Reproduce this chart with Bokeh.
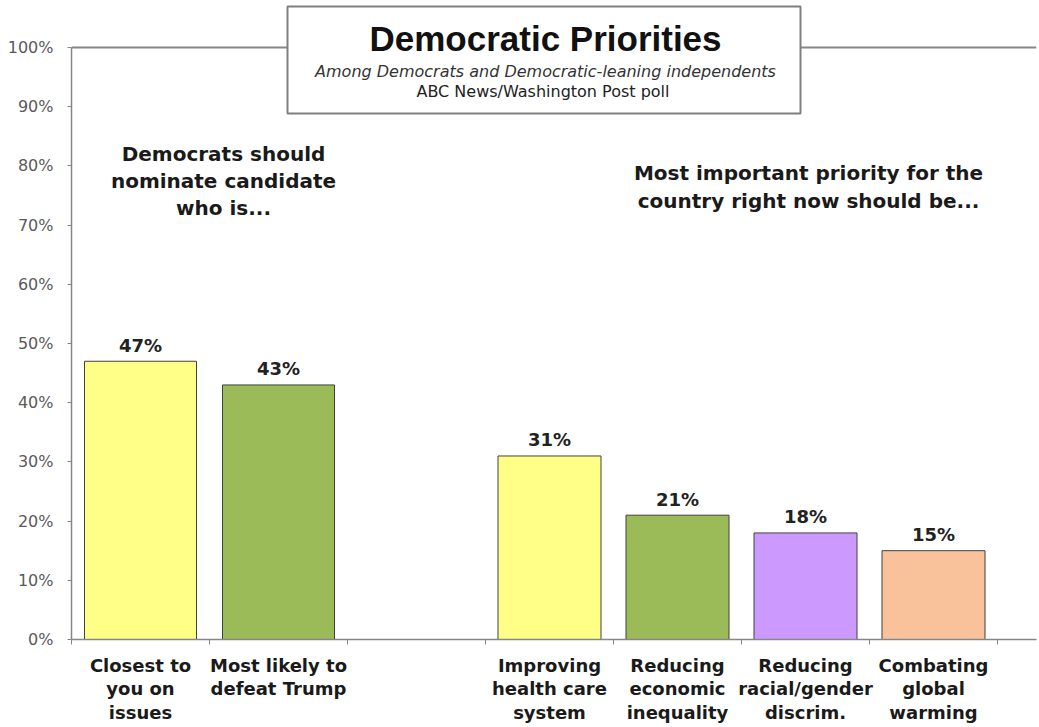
from bokeh.plotting import figure
from bokeh.models import (ColumnDataSource, Range1d, FixedTicker, PrintfTickFormatter,
                          Span, BoxAnnotation, Label, LinearAxis)
from bokeh.core.properties import value
from bokeh.embed import file_html
from bokeh.resources import INLINE

# ---------------- data ----------------
candidate_labels = ["Closest to\nyou on\nissues", "Most likely to\ndefeat Trump"]
candidate_values = [47, 43]
priority_labels = ["Improving\nhealth care\nsystem", "Reducing\neconomic\ninequality",
                   "Reducing\nracial/gender\ndiscrim.", "Combating\nglobal\nwarming"]
priority_values = [31, 21, 18, 15]
y_ticks = [0, 10, 20, 30, 40, 50, 60, 70, 80, 90, 100]

title_text = "Democratic Priorities"
subtitle_text = "Among Democrats and Democratic-leaning independents"
source_text = "ABC News/Washington  Post poll"
left_note = ["Democrats should", "nominate candidate", "who is..."]
right_note = ["Most important priority for the", "country right now should be..."]

# ---------------- styles / layout ----------------
candidate_colors = ["#FFFF88", "#9BBB59"]
priority_colors = ["#FFFF88", "#9BBB59", "#CC99FF", "#FAC29A"]
SLOT_A, SLOT_B = 138, 128
BAR_A, BAR_B = 112, 103
FONT = "DejaVu Sans"
TITLE_FONT = "Liberation Sans"
AXIS_GRAY = "#868686"
PX = 5.92            # pixels per percentage point
Y_END = 635 / PX


def yv(px_from_top):
    """convert a pixel row (from top of figure) to a data value"""
    return (639 - px_from_top) / PX


n_a = len(candidate_values)
start_b = (n_a + 1) * SLOT_A
x_a = [i * SLOT_A + SLOT_A // 2 for i in range(n_a)]
x_b = [start_b + j * SLOT_B + SLOT_B // 2 for j in range(len(priority_values))]
bounds_a = [k * SLOT_A for k in range(n_a + 2)]
bounds_b = [start_b + j * SLOT_B for j in range(1, len(priority_values) + 1)]

src = ColumnDataSource(dict(
    x=x_a + x_b,
    top=candidate_values + priority_values,
    w=[BAR_A] * n_a + [BAR_B] * len(priority_values),
    color=candidate_colors + priority_colors,
    label=[f"{v}%" for v in candidate_values + priority_values],
))

p = figure(width=1039, height=727, x_range=Range1d(0, 965), y_range=Range1d(0, Y_END),
           output_backend="svg", toolbar_location=None,
           x_axis_type=None, y_axis_type=None,
           min_border_left=71, min_border_right=3, min_border_top=4, min_border_bottom=88)
p.outline_line_color = None
p.xgrid.visible = False
p.ygrid.visible = False
p.background_fill_color = "white"
p.border_fill_color = "white"

# y axis
yax = LinearAxis(ticker=FixedTicker(ticks=y_ticks, minor_ticks=[]),
                 formatter=PrintfTickFormatter(format="%d%%"), bounds=(0, 100))
yax.axis_line_color = AXIS_GRAY
yax.axis_line_width = 1.5
yax.major_tick_line_color = AXIS_GRAY
yax.major_tick_out = 4
yax.major_tick_in = 0
yax.minor_tick_line_color = None
yax.major_label_standoff = 14
yax.major_label_text_font = FONT
yax.major_label_text_font_size = "16px"
yax.major_label_text_color = "#5a5a5a"
p.add_layout(yax, "left")

# x axis
overrides = {x: lab for x, lab in zip(x_a + x_b, candidate_labels + priority_labels)}
xax = LinearAxis(ticker=FixedTicker(ticks=x_a + x_b, minor_ticks=bounds_a + bounds_b),
                 major_label_overrides=overrides)
xax.axis_line_color = AXIS_GRAY
xax.axis_line_width = 1.5
xax.major_tick_line_color = None
xax.major_tick_out = 0
xax.major_tick_in = 0
xax.minor_tick_line_color = AXIS_GRAY
xax.minor_tick_out = 5
xax.minor_tick_in = 0
xax.major_label_standoff = 10
xax.major_label_text_font = FONT
xax.major_label_text_font_style = "bold"
xax.major_label_text_font_size = "18px"
xax.major_label_text_color = "#1a1a1a"
xax.major_label_text_line_height = 1.12
p.add_layout(xax, "below")

# bars
p.vbar(x="x", top="top", width="w", bottom=0, source=src, fill_color="color",
       line_color="#404040", line_width=1)
p.text(x="x", y="top", text="label", source=src, y_offset=-16, text_align="center",
       text_baseline="alphabetic", text_font=value(FONT), text_font_style="bold",
       text_font_size="18px", text_color="#222222")

# top frame line and title box
p.add_layout(Span(location=100, dimension="width", line_color=AXIS_GRAY, line_width=2))
p.add_layout(BoxAnnotation(left=216, right=729, bottom=yv(113), top=yv(6),
                           fill_color="white", fill_alpha=1.0,
                           line_color="#808080", line_width=2, line_alpha=1.0))
p.add_layout(Label(x=474, y=yv(38), text=title_text, text_align="center",
                   text_baseline="alphabetic", text_font=TITLE_FONT, text_font_style="bold",
                   text_font_size="35px", text_color="#111111"))
p.add_layout(Label(x=474, y=yv(70.6), text=subtitle_text, text_align="center",
                   text_baseline="alphabetic", text_font=FONT, text_font_style="italic",
                   text_font_size="16px", text_color="#333333"))
p.add_layout(Label(x=474, y=yv(90.6), text=source_text, text_align="center",
                   text_baseline="alphabetic", text_font=FONT, text_font_size="16px",
                   text_color="#222222"))

# notes
for line, row in zip(left_note, [153, 180, 207]):
    p.add_layout(Label(x=152, y=yv(row), text=line, text_align="center",
                       text_baseline="alphabetic", text_font=FONT, text_font_style="bold",
                       text_font_size="20px", text_color="#1a1a1a"))
for line, row in zip(right_note, [172, 200]):
    p.add_layout(Label(x=737, y=yv(row), text=line, text_align="center",
                       text_baseline="alphabetic", text_font=FONT, text_font_style="bold",
                       text_font_size="20px", text_color="#1a1a1a"))

open("out.html", "w").write(file_html(p, INLINE))
